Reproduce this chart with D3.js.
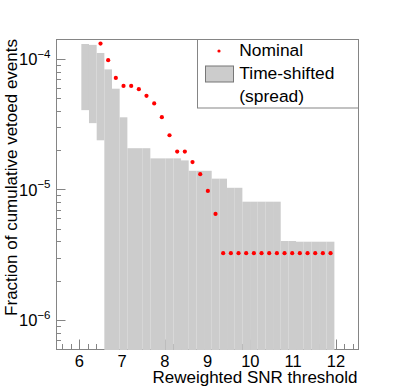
<!DOCTYPE html>
<html>
<head>
<meta charset="utf-8">
<script src="https://cdn.jsdelivr.net/npm/d3@7/dist/d3.min.js"></script>
<style>
  html, body { margin: 0; padding: 0; background: #fff; }
  svg { display: block; font-family: "Liberation Sans", Arial, sans-serif; }
</style>
</head>
<body>
<svg id="chart" width="399" height="388"></svg>
<script>
// ---- data ----
const binCenters = [6.137, 6.316, 6.496, 6.675, 6.854, 7.034, 7.213, 7.392, 7.571, 7.751,
  7.930, 8.109, 8.289, 8.468, 8.647, 8.827, 9.006, 9.185, 9.364, 9.544,
  9.723, 9.902, 10.082, 10.261, 10.440, 10.620, 10.799, 10.978, 11.157, 11.337,
  11.516, 11.695, 11.875];
const binHalfWidth = 0.0897;
const spreadMax = [1.30e-4, 1.28e-4, 1.11e-4, 8.31e-5, 5.91e-5, 3.57e-5, 2.07e-5, 2.07e-5, 2.07e-5, 1.73e-5,
  1.73e-5, 1.73e-5, 1.73e-5, 1.67e-5, 1.39e-5, 1.39e-5, 1.39e-5, 1.21e-5, 1.21e-5, 1.03e-5,
  1.03e-5, 8.06e-6, 8.06e-6, 8.06e-6, 8.06e-6, 8.06e-6, 4.03e-6, 4.03e-6, 3.98e-6, 3.98e-6,
  3.98e-6, 3.98e-6, 3.98e-6];
const spreadMin = [4.05e-5, 3.22e-5, 2.38e-5, 0, 0, 0, 0, 0, 0, 0,
  0, 0, 0, 0, 0, 0, 0, 0, 0, 0,
  0, 0, 0, 0, 0, 0, 0, 0, 0, 0,
  0, 0, 0];
const nominal = [null, null, 1.31e-4, 9.77e-5, 7.15e-5, 6.21e-5, 6.21e-5, 5.86e-5, 5.21e-5, 4.56e-5,
  3.58e-5, 2.60e-5, 1.95e-5, 1.95e-5, 1.62e-5, 1.31e-5, 9.74e-6, 6.49e-6, 3.25e-6, 3.25e-6,
  3.25e-6, 3.25e-6, 3.25e-6, 3.25e-6, 3.25e-6, 3.25e-6, 3.25e-6, 3.25e-6, 3.25e-6, 3.25e-6,
  3.25e-6, 3.25e-6, 3.25e-6];
const xTickValues = [6, 7, 8, 9, 10, 11, 12];
const yDecades = [1e-6, 1e-5, 1e-4];
const yDecadeLabels = ["\u22126", "\u22125", "\u22124"];
const xTitle = "Reweighted SNR threshold";
const yTitle = "Fraction of cumulative vetoed events";
const legendLabels = ["Nominal", "Time-shifted", "(spread)"];

// ---- layout ----
const L = 56, R = 359, T = 39, B = 349;
const frameColor = "#858585";
const grayFill = "#cccccc";

const svg = d3.select("#chart");
const x = d3.scaleLinear().domain([5.455, 12.54]).range([L, R]);
const y = d3.scaleLog().domain([6.0e-7, 1.42e-4]).range([B, T]);

// ticks (drawn before the band so the band covers them)
const gAx = svg.append("g");
const xMinor = d3.range(5.6, 12.55, 0.2).filter(v => Math.abs(v - Math.round(v)) > 1e-6);
xMinor.forEach(v => {
  const px = Math.round(x(v)) + 0.5;
  gAx.append("line").attr("x1", px).attr("x2", px).attr("y1", B).attr("y2", B - 5)
    .attr("stroke", frameColor).attr("stroke-width", 1);
});
xTickValues.forEach(v => {
  const px = Math.round(x(v)) + 0.5;
  gAx.append("line").attr("x1", px).attr("x2", px).attr("y1", B).attr("y2", B - 9.5)
    .attr("stroke", frameColor).attr("stroke-width", 1);
});
const yMinor = [];
[1e-7, 1e-6, 1e-5, 1e-4].forEach(d => { for (let k = 2; k <= 9; k++) { const v = d * k; if (v >= 6.0e-7 && v <= 1.42e-4) yMinor.push(v); } });
yMinor.forEach(v => {
  const py = Math.round(y(v)) + 0.5;
  gAx.append("line").attr("x1", L).attr("x2", L + 5).attr("y1", py).attr("y2", py)
    .attr("stroke", frameColor).attr("stroke-width", 1);
});
yDecades.forEach(v => {
  const py = Math.round(y(v)) + 0.5;
  gAx.append("line").attr("x1", L).attr("x2", L + 9.5).attr("y1", py).attr("y2", py)
    .attr("stroke", frameColor).attr("stroke-width", 1);
});

// frame
svg.append("rect").attr("x", L + 0.5).attr("y", T + 0.5).attr("width", R - L - 1).attr("height", B - T)
  .attr("fill", "none").attr("stroke", frameColor).attr("stroke-width", 1);

// clip
svg.append("clipPath").attr("id", "plotclip").append("rect")
  .attr("x", L).attr("y", T).attr("width", R - L).attr("height", B - T + 1);

// spread band
const gBand = svg.append("g").attr("clip-path", "url(#plotclip)");
binCenters.forEach((c, i) => {
  const top = y(spreadMax[i]);
  const bot = spreadMin[i] > 0 ? y(spreadMin[i]) : B + 1;
  gBand.append("rect")
    .attr("x", x(c - binHalfWidth)).attr("width", x(c + binHalfWidth) - x(c - binHalfWidth))
    .attr("y", top).attr("height", bot - top)
    .attr("fill", grayFill);
});

// nominal dots
const gDots = svg.append("g").attr("clip-path", "url(#plotclip)");
binCenters.forEach((c, i) => {
  if (nominal[i] == null) return;
  gDots.append("circle").attr("cx", x(c)).attr("cy", y(nominal[i])).attr("r", 2.1).attr("fill", "#ff0000");
});

// tick labels
xTickValues.forEach(v => {
  svg.append("text").attr("x", x(v)).attr("y", 366.7).attr("text-anchor", "middle")
    .attr("font-size", 16.5).attr("fill", "#000").text(v);
});
yDecades.forEach((v, i) => {
  const t = svg.append("text").attr("x", 50.5).attr("y", y(v) + 6.3).attr("text-anchor", "end")
    .attr("font-size", 16.5).attr("fill", "#000");
  t.append("tspan").text("10");
  t.append("tspan").attr("dy", -7.5).attr("font-size", 11.5).text(yDecadeLabels[i]);
});

// axis titles
svg.append("text").attr("x", 357.5).attr("y", 382.5).attr("text-anchor", "end")
  .attr("font-size", 17).attr("fill", "#000").text(xTitle);
svg.append("text").attr("transform", "translate(16.7," + T + ") rotate(-90)").attr("text-anchor", "end")
  .attr("font-size", 17).attr("fill", "#000").text(yTitle);

// legend
const lg = svg.append("g");
lg.append("rect").attr("x", 197.5).attr("y", T + 0.5).attr("width", R - 0.5 - 197.5).attr("height", 68.5)
  .attr("fill", "#fff").attr("stroke", frameColor).attr("stroke-width", 1);
lg.append("circle").attr("cx", 219).attr("cy", 51).attr("r", 1.6).attr("fill", "#ff0000");
lg.append("rect").attr("x", 205.5).attr("y", 66).attr("width", 28).attr("height", 16)
  .attr("fill", grayFill).attr("stroke", "#777").attr("stroke-width", 1);
const lgBase = [56, 79.3, 101.7];
legendLabels.forEach((s, i) => {
  lg.append("text").attr("x", 239.3).attr("y", lgBase[i]).attr("font-size", 17.4).attr("fill", "#000").text(s);
});
</script>
</body>
</html>
